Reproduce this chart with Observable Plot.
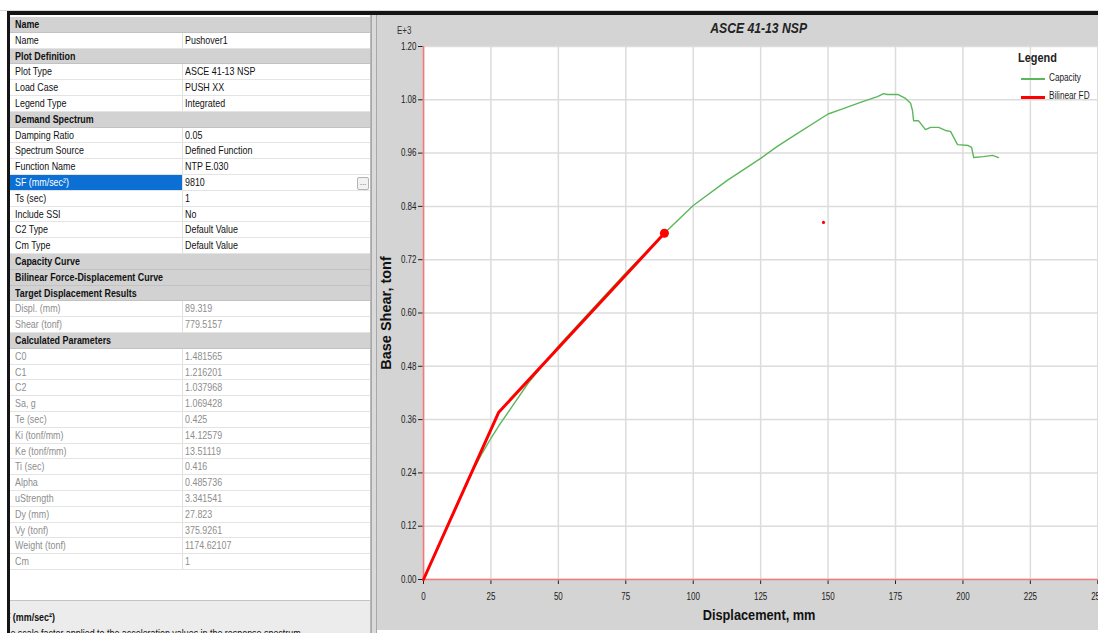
<!DOCTYPE html>
<html><head><meta charset="utf-8">
<script src="https://cdn.jsdelivr.net/npm/d3@7"></script>
<script src="https://cdn.jsdelivr.net/npm/@observablehq/plot@0.6"></script>
<style>
html,body{margin:0;padding:0;width:1098px;height:633px;overflow:hidden;background:#fff;font-family:"Liberation Sans",Arial,sans-serif;}
body{position:relative;}
.sq{display:inline-block;white-space:nowrap;transform-origin:0 50%;transform:scaleX(0.81);}
.row{position:absolute;left:10px;width:360px;box-sizing:border-box;font-size:11px;color:#111;overflow:hidden;}
.row .lab,.row .val{position:absolute;top:0;white-space:nowrap;}
</style></head>
<body>
<div id="page"></div>
<script>
// ---------- property grid data ----------
const propLabels = ["Name","Name","Plot Definition","Plot Type","Load Case","Legend Type","Demand Spectrum","Damping Ratio","Spectrum Source","Function Name","SF (mm/sec²)","Ts (sec)","Include SSI","C2 Type","Cm Type","Capacity Curve","Bilinear Force-Displacement Curve","Target Displacement Results","Displ. (mm)","Shear (tonf)","Calculated Parameters","C0","C1","C2","Sa, g","Te (sec)","Ki (tonf/mm)","Ke (tonf/mm)","Ti (sec)","Alpha","uStrength","Dy (mm)","Vy (tonf)","Weight (tonf)","Cm"];
const propValues = ["","Pushover1","","ASCE 41-13 NSP","PUSH XX","Integrated","","0.05","Defined Function","NTP E.030","9810","1","No","Default Value","Default Value","","","","89.319","779.5157","","1.481565","1.216201","1.037968","1.069428","0.425","14.12579","13.51119","0.416","0.485736","3.341541","27.823","375.9261","1174.62107","1"];
const propKinds = ["h","n","h","n","n","n","h","n","n","n","s","n","n","n","n","h","h","h","d","d","h","d","d","d","d","d","d","d","d","d","d","d","d","d","d"];

// ---------- chart data ----------
const xTicks = [0, 25, 50, 75, 100, 125, 150, 175, 200, 225, 250];
const yTicks = [0, 0.12, 0.24, 0.36, 0.48, 0.60, 0.72, 0.84, 0.96, 1.08, 1.20];
const capDisp = [0, 10, 18.9, 22, 25, 27.8, 32, 38.9, 50, 62.5, 75, 89.3, 100, 112.5, 125, 131.2, 137.5, 150, 154.6, 162, 168.3, 170.6, 172, 175.8, 178.7, 180.6, 181.3, 181.7, 183.5, 186.1, 188, 191, 193.5, 195.4, 198, 202, 203.2, 204, 207.6, 211, 213.2];
const capShear = [0, 0.138, 0.252, 0.287, 0.318, 0.345, 0.382, 0.443, 0.525, 0.608, 0.690, 0.7795, 0.842, 0.898, 0.948, 0.975, 1.000, 1.048, 1.058, 1.074, 1.087, 1.094, 1.092, 1.092, 1.083, 1.072, 1.056, 1.033, 1.033, 1.013, 1.018, 1.018, 1.011, 1.009, 0.979, 0.977, 0.973, 0.950, 0.952, 0.955, 0.950];
const bilDisp = [0, 27.823, 89.319];
const bilShear = [0, 0.3759261, 0.7795157];
const targetDisp = [89.319];
const targetShear = [0.7795157];
const strayDisp = [148.3];
const strayShear = [0.804];

const page = document.getElementById("page");
function el(tag, css, html) {
  const e = document.createElement(tag);
  e.style.cssText = css;
  if (html !== undefined) e.innerHTML = html;
  page.appendChild(e);
  return e;
}

// ---------- left property grid ----------
el("div", "position:absolute;left:10px;top:15px;width:361px;height:618px;background:#fff;");
const gridTop = 17, rowH = 15.8;
propLabels.forEach((lab, i) => {
  const k = propKinds[i];
  const top = gridTop + i * rowH;
  const r = el("div", `top:${top}px;height:${rowH}px;line-height:${rowH}px;`);
  r.className = "row";
  if (k === "h") {
    r.style.background = "#d2d2d2";
    r.style.borderBottom = "1px solid #c2c2c2";
    r.innerHTML = `<span class="lab" style="left:5px;font-weight:bold;"><span class="sq">${lab}</span></span>`;
  } else {
    r.style.background = "#fff";
    r.style.borderBottom = "1px solid #e4e4e4";
    const col = k === "d" ? "#8e8e8e" : "#111";
    let labHtml;
    if (k === "s") {
      labHtml = `<span style="position:absolute;left:0;top:0;width:172px;height:${rowH}px;background:#0b6fd3;"></span><span class="lab" style="left:5px;color:#fff;"><span class="sq">${lab}</span></span>`;
    } else {
      labHtml = `<span class="lab" style="left:5px;color:${col};"><span class="sq">${lab}</span></span>`;
    }
    r.innerHTML = labHtml +
      `<span style="position:absolute;left:172px;top:0;width:1px;height:${rowH}px;background:#e0e0e0;"></span>` +
      `<span class="val" style="left:175px;color:${col};"><span class="sq">${propValues[i]}</span></span>` +
      (k === "s" ? `<span style="position:absolute;left:347px;top:2px;width:10px;height:11px;border:1px solid #b4b4b4;background:#f2f2f2;border-radius:2px;font-size:8px;line-height:9px;text-align:center;color:#555;">...</span>` : "");
  }
});
el("div", "position:absolute;left:370px;top:15px;width:1px;height:618px;background:#b8b8b8;");
el("div", "position:absolute;left:10px;top:600px;width:360px;height:33px;background:#ececec;border-top:1px solid #c4c4c4;overflow:hidden;font-size:11px;color:#111;",
  `<span style="position:absolute;left:-11px;top:10px;font-weight:bold;"><span class="sq">SF (mm/sec²)</span></span>` +
  `<span style="position:absolute;left:-10px;top:26px;"><span class="sq">The scale factor applied to the acceleration values in the response spectrum.</span></span>`);
el("div", "position:absolute;left:371px;top:15px;width:6px;height:618px;background:#dadada;border-left:1px solid #a8a8a8;border-right:1px solid #a8a8a8;box-sizing:border-box;");
el("div", "position:absolute;left:0;top:10px;width:1098px;height:1px;background:#d8d8d8;");
el("div", "position:absolute;left:7px;top:11px;width:1091px;height:4px;background:#151515;");
el("div", "position:absolute;left:7px;top:11px;width:3px;height:622px;background:#151515;");

// ---------- chart ----------
const chartBox = el("div", "position:absolute;left:377px;top:15px;width:721px;height:615px;background:#d4d4d4;overflow:hidden;");
const capacity = capDisp.map((d, i) => ({d, v: capShear[i]}));
const bilinear = bilDisp.map((d, i) => ({d, v: bilShear[i]}));
const target = targetDisp.map((d, i) => ({d, v: targetShear[i]}));
const stray = strayDisp.map((d, i) => ({d, v: strayShear[i]}));

const chart = Plot.plot({
  width: 740, height: 615,
  marginLeft: 46, marginRight: 19.7, marginTop: 31, marginBottom: 51,
  style: {background: "transparent", fontFamily: "Liberation Sans, Arial, sans-serif", fontSize: "10px", color: "#222", overflow: "visible", maxWidth: "none"},
  x: {domain: [0, 250], ticks: xTicks, tickSize: 5, tickPadding: 8, label: null},
  y: {domain: [0, 1.2], ticks: yTicks, tickSize: 5, tickPadding: 2, tickFormat: d => d.toFixed(2), label: null},
  marks: [
    Plot.frame({fill: "white", stroke: "none"}),
    Plot.ruleX(xTicks, {stroke: "#dcdcdc", strokeWidth: 1.5}),
    Plot.ruleY(yTicks, {stroke: "#dcdcdc", strokeWidth: 1.5}),
    Plot.ruleX([0], {stroke: "#f27a7a", strokeWidth: 1.6}),
    Plot.ruleY([0], {stroke: "#f27a7a", strokeWidth: 1.6}),
    Plot.line(capacity, {x: "d", y: "v", stroke: "#5cb65c", strokeWidth: 1.4}),
    Plot.line(bilinear, {x: "d", y: "v", stroke: "#ff0000", strokeWidth: 3}),
    Plot.dot(target, {x: "d", y: "v", r: 4.5, fill: "#ff0000"}),
    Plot.dot(stray, {x: "d", y: "v", r: 1.6, fill: "#ff0000"})
  ]
});
chart.style.position = "absolute";
chart.style.left = "0px";
chart.style.top = "0px";
chart.style.maxWidth = "none";
chart.style.width = "740px";
chart.style.height = "615px";
chartBox.appendChild(chart);
// condense axis tick labels around their anchor points
const s = 0.8;
chart.querySelectorAll('g[aria-label*="axis"] text').forEach(t => {
  const tr = t.getAttribute("transform");
  const x = parseFloat(t.getAttribute("x") || "0");
  const pre = tr ? tr + " " : "";
  t.setAttribute("transform", `${pre}translate(${(1 - s) * x},0) scale(${s},1)`);
});

// chart texts
el("div", "position:absolute;left:659px;top:20px;width:200px;text-align:center;font:italic bold 14px 'Liberation Sans',Arial,sans-serif;color:#222;",
  `<span style="display:inline-block;transform:scaleX(0.87);">ASCE 41-13 NSP</span>`);
el("div", "position:absolute;left:397px;top:25px;font-size:10px;color:#333;",
  `<span class="sq" style="transform:scaleX(0.8);">E+3</span>`);
el("div", "position:absolute;left:659px;top:607px;width:200px;text-align:center;font:bold 14.5px 'Liberation Sans',Arial,sans-serif;color:#111;",
  `<span style="display:inline-block;transform:scaleX(0.88);">Displacement, mm</span>`);
el("div", "position:absolute;left:287px;top:304px;width:200px;height:18px;line-height:18px;text-align:center;font:bold 14.5px 'Liberation Sans',Arial,sans-serif;color:#111;transform:rotate(-90deg);transform-origin:100px 9px;",
  `Base Shear, tonf`);
el("div", "position:absolute;left:1018px;top:50px;font:bold 13px 'Liberation Sans',Arial,sans-serif;color:#222;",
  `<span class="sq" style="transform:scaleX(0.84);">Legend</span>`);
el("div", "position:absolute;left:1021px;top:78px;width:24px;height:1.5px;background:#5cb65c;");
el("div", "position:absolute;left:1049px;top:72px;font-size:10px;color:#222;",
  `<span class="sq" style="transform:scaleX(0.82);">Capacity</span>`);
el("div", "position:absolute;left:1021px;top:95.5px;width:24px;height:3px;background:#ff0000;");
el("div", "position:absolute;left:1049px;top:90px;font-size:10px;color:#222;",
  `<span class="sq" style="transform:scaleX(0.82);">Bilinear FD</span>`);
</script>
</body></html>
